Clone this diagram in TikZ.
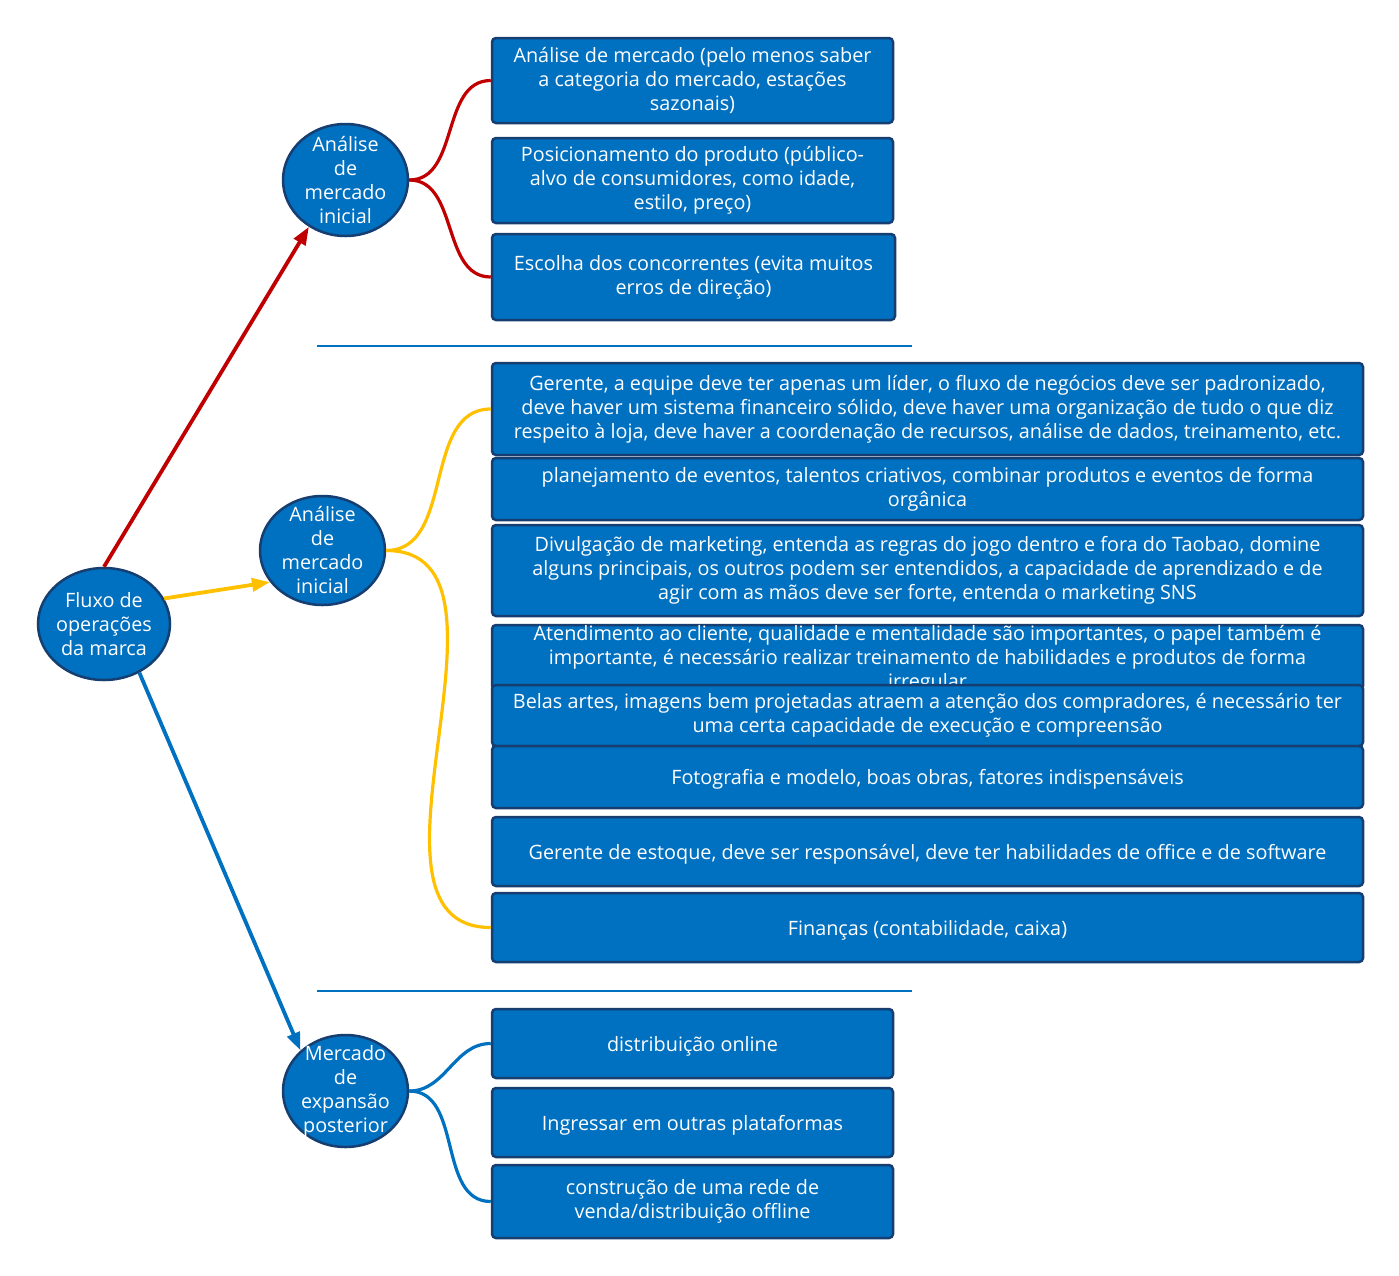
\documentclass[tikz,border=0pt]{standalone}
\usepackage{fontspec}
\setmainfont{Open Sans}
\usepackage{xcolor}
\usepackage{tikz}
\usetikzlibrary{
	arrows.meta,
	shapes.geometric
}
\definecolor{BoxBlue}{RGB}{0,112,192}
\definecolor{BoxEdge}{RGB}{22,62,112}
\definecolor{LineRed}{RGB}{192,0,0}
\definecolor{LineYellow}{RGB}{255,192,0}
\definecolor{LineBlue}{RGB}{0,112,192}

\begin{document}
\begin{tikzpicture}[x=1pt, y=-1pt,
		txt/.style={text=white, align=center, font={\fontsize{19.8}{24}\selectfont}},
		hub/.style={ellipse, draw=BoxEdge, line width=2.5pt, fill=BoxBlue, inner sep=0pt},
		box/.style={rectangle, rounded corners=4pt, draw=BoxEdge, line width=2.5pt, fill=BoxBlue, inner sep=0pt, txt,
			execute at begin node={\rule{0pt}{20pt}}, execute at end node={\rule[-4pt]{0pt}{0pt}}},
		wide/.style={box, minimum width=871pt},
		narrow/.style={box, minimum width=401pt},
		arr/.style={line width=3.8pt, -{Triangle[length=18pt, width=13pt]}},
		branch/.style={line width=3.2pt, out=0, in=180}
	]
		\useasboundingbox (0,0) rectangle (1399,1275);
		
		% 中心节点与三个分支
		\node[hub, minimum width=132pt, minimum height=112pt] (root) at (104,624) {};
		\node[txt] at (root) {Fluxo de\\operações\\da marca};
		\node[hub, minimum width=125pt, minimum height=112pt] (inicial) at (345.5,180) {};
		\node[txt] at (inicial) {Análise\\de\\mercado\\inicial};
		\node[hub, minimum width=125pt, minimum height=109pt] (gestao) at (322.5,550.5) {};
		\node[txt] at (gestao) {Análise\\de\\mercado\\inicial};
		\node[hub, minimum width=125pt, minimum height=112pt] (expansao) at (345.5,1091) {};
		\node[txt] at (expansao) {Mercado\\de\\expansão\\posterior};
		
		\draw[arr, LineRed] (root.north) -- (inicial.232);
		\draw[arr, LineYellow] (root.23) -- (gestao.211);
		\draw[arr, LineBlue] (root.-54) -- (expansao.138);
		
		% 分隔线
		\draw[line width=2.5pt, LineBlue] (317,346) -- (912,346);
		\draw[line width=2.5pt, LineBlue] (317,991) -- (912,991);
		
		% 上组
		\node[narrow, minimum height=85pt] (t1) at (692.5,80.5) {Análise de mercado (pelo menos saber\\a categoria do mercado, estações\\sazonais)};
		\node[narrow, minimum height=85pt] (t2) at (692.5,180.5) {Posicionamento do produto (público-\\alvo de consumidores, como idade,\\estilo, preço)};
		\node[narrow, minimum width=403pt, minimum height=86pt] (t3) at (693.5,277) {Escolha dos concorrentes (evita muitos\\erros de direção)};
		
		\draw[branch, LineRed] (inicial.east) to (t1.west);
		\draw[branch, LineRed] (inicial.east) to (t3.west);
		
		% 中组
		\node[wide, minimum height=92pt] (m1) at (927.5,409) {Gerente, a equipe deve ter apenas um líder, o fluxo de negócios deve ser padronizado,\\deve haver um sistema financeiro sólido, deve haver uma organização de tudo o que diz\\respeito à loja, deve haver a coordenação de recursos, análise de dados, treinamento, etc.};
		\node[wide, minimum height=62pt] (m2) at (927.5,489) {planejamento de eventos, talentos criativos, combinar produtos e eventos de forma\\orgânica};
		\node[wide, minimum height=91pt] (m3) at (927.5,570.5) {Divulgação de marketing, entenda as regras do jogo dentro e fora do Taobao, domine\\alguns principais, os outros podem ser entendidos, a capacidade de aprendizado e de\\agir com as mãos deve ser forte, entenda o marketing SNS};
		\node[wide, minimum height=65pt] (m4) at (927.5,657.5) {};
		\node[txt, yshift=-2pt] (m4txt) at (m4.center) {Atendimento ao cliente, qualidade e mentalidade são importantes, o papel também é\\importante, é necessário realizar treinamento de habilidades e produtos de forma\\irregular};
		\node[wide, minimum height=61pt] (m5) at (927.5,715.5) {Belas artes, imagens bem projetadas atraem a atenção dos compradores, é necessário ter\\uma certa capacidade de execução e compreensão};
		\node[wide, minimum height=62pt] (m6) at (927.5,777) {Fotografia e modelo, boas obras, fatores indispensáveis};
		\node[wide, minimum height=69pt] (m7) at (927.5,851.5) {Gerente de estoque, deve ser responsável, deve ter habilidades de office e de software};
		\node[wide, minimum height=69pt] (m8) at (927.5,927.5) {Finanças (contabilidade, caixa)};
		
		\draw[branch, LineYellow] (gestao.east) to (m1.west);
		\draw[branch, LineYellow] (gestao.east) to (m8.west);
		
		% 下组
		\node[narrow, minimum height=69pt] (b1) at (692.5,1043.5) {distribuição online};
		\node[narrow, minimum height=69pt] (b2) at (692.5,1122.5) {Ingressar em outras plataformas};
		\node[narrow, minimum height=73pt] (b3) at (692.5,1201.5) {construção de uma rede de\\venda/distribuição offline};
		
		\draw[branch, LineBlue] (expansao.east) to (b1.west);
		\draw[branch, LineBlue] (expansao.east) to (b3.west);
	\end{tikzpicture}
\end{document}
